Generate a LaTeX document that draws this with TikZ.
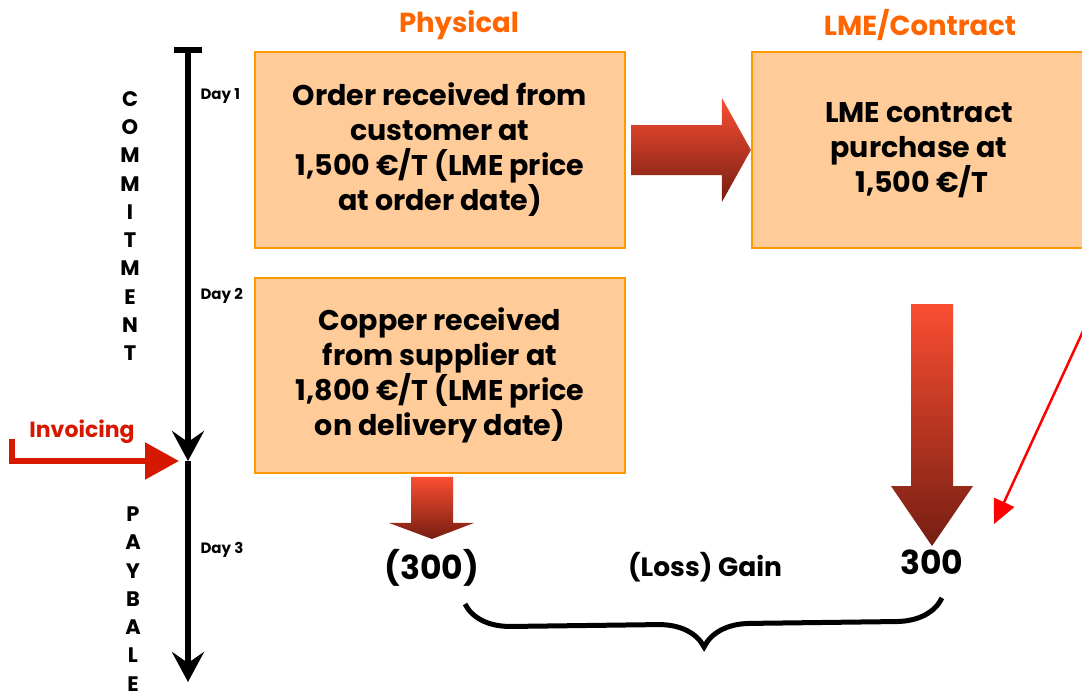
\documentclass[tikz,border=0pt]{standalone}
\usepackage{fontspec}
\setmainfont{Poppins}
\usetikzlibrary{arrows.meta,decorations.pathreplacing,calc}

\definecolor{boxfill}{RGB}{255,204,153}
\definecolor{boxline}{RGB}{255,153,0}
\definecolor{headorange}{RGB}{255,102,0}
\definecolor{invred}{RGB}{214,24,0}
\definecolor{arrowtop}{RGB}{250,78,50}
\definecolor{arrowbot}{RGB}{118,30,18}

\begin{document}
\begin{tikzpicture}[x=1pt, y=-1pt,
  physbox/.style={draw=boxline, line width=2.2pt, fill=boxfill, align=center,
    font=\fontsize{28.5}{35}\selectfont\bfseries, inner sep=0pt},
  header/.style={text=headorange, font=\fontsize{27.5}{30}\selectfont\bfseries},
  daylabel/.style={font=\fontsize{15}{17}\selectfont\bfseries, anchor=west},
  vlabel/.style={align=center, font=\fontsize{21}{28.3}\selectfont\bfseries},
  result/.style={font=\fontsize{33}{36}\selectfont\bfseries},
  blockarrow/.style={top color=arrowtop, bottom color=arrowbot, draw=none},
  timeline/.style={line width=5.5pt, -{Stealth[length=30pt, width=32pt, inset=11pt]}}]

\useasboundingbox (0,0) rectangle (1082,693);
\clip (0,0) rectangle (1082,693);

% Headers
\node[header] (phys) at (459,25) {Physical};
\node[header] (cont) at (920,25) {LME/Contract};

% Boxes
\node[physbox, minimum width=370, minimum height=196] (order) at (440,150)
  {Order received from\\customer at\\1,500 €/T (LME price\\at order date)};
\node[physbox, minimum width=370, minimum height=195] (copper) at (440,375.5)
  {Copper received\\from supplier at\\1,800 €/T (LME price\\on delivery date)};
\node[physbox, minimum width=334, minimum height=196] (lme) at (919,150)
  {LME contract\\purchase at\\\ 1,500 €/T};

% Results
\node[result] (loss) at (432,568) {(300)};
\node[result] (gain) at (932,562) {300};
\node[font=\fontsize{26.5}{30}\selectfont\bfseries] (lossgain) at (705,567) {(Loss) Gain};

% Timeline
\coordinate (tTop) at (188,50);
\coordinate (tInv) at (188,461);
\coordinate (tEnd) at (188,682);
\draw[timeline] (tTop) -- (tInv);
\draw[timeline] (tInv) -- (tEnd);
\draw[line width=6pt] ($(tTop)+(-14,0)$) -- ($(tTop)+(14,0)$);

\node[daylabel] (day1) at (197,96) {Day 1};
\node[daylabel] (day2) at (197,296) {Day 2};
\node[daylabel] (day3) at (197,550) {Day 3};

\node[vlabel] (commit) at (130,226) {C\\O\\M\\M\\I\\T\\M\\E\\N\\T};
\node[vlabel] (payable) at (133,599) {P\\A\\Y\\B\\A\\L\\E};

% Invoicing
\node[text=invred, font=\fontsize{22}{24}\selectfont\bfseries] (invoicing) at (82,432) {Invoicing};
\coordinate (invStart) at (12,439);
\draw[invred, line width=5.5pt, -{Triangle[length=34pt, width=36pt]}, shorten >=9pt]
  (invStart) |- (tInv);

% Block arrows
\shade[blockarrow] ($(order.east)+(5,-25)$) -| ($(lme.west)+(-29,-52)$)
  -- (lme.west) -- ($(lme.west)+(-29,52)$) |- ($(order.east)+(5,25)$) -- cycle;
\shade[blockarrow] ($(gain.north)+(-21,-242)$) -- ++(42,0) |- ($(gain.north)+(41,-60)$)
  -- ($(gain.north)+(0,0)$) -- ($(gain.north)+(-41,-60)$) -| cycle;
\shade[blockarrow] ($(loss.north)+(-21,-69)$) -- ++(42,0) |- ($(loss.north)+(42,-23)$)
  -- ($(loss.north)+(0,-7)$) -- ($(loss.north)+(-43,-23)$) -| cycle;

% Brace
\draw[line width=5pt, decorate, decoration={brace, mirror, amplitude=46pt, aspect=0.5}]
  ($(loss.south)+(33,14)$) -- ($(gain.south)+(10,20)$);

% Red pointer
\coordinate (ptrStart) at (1102,290);
\draw[red, line width=2.5pt, -{Triangle[length=24pt, width=22pt]}]
  (ptrStart) -- ($(gain.north east)+(27,-22)$);

\end{tikzpicture}
\end{document}
